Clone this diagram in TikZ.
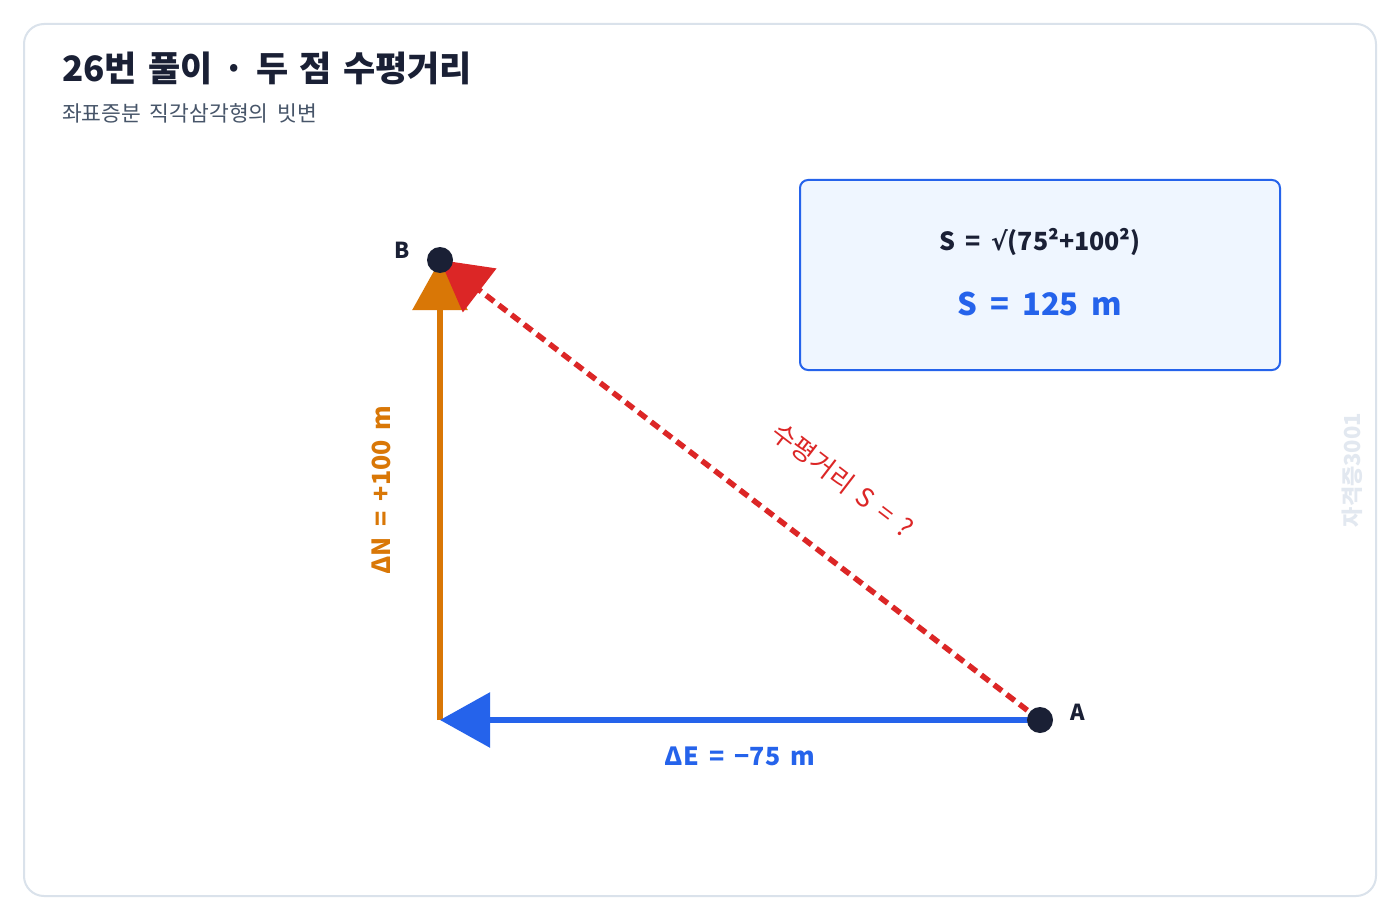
\documentclass[tikz,border=0pt]{standalone}
\usepackage{fontspec}
\setmainfont[WordSpace = 1.8]{Noto Sans CJK KR}
\newfontfamily\titlefont[WordSpace = 1.4]{Noto Sans CJK KR}
\newfontfamily\symfont{DejaVu Sans}
\usetikzlibrary{calc, arrows.meta}
\definecolor{ink}{HTML}{1A2035}
\definecolor{subgray}{HTML}{475569}
\definecolor{framegray}{HTML}{DAE2EB}
\definecolor{markgray}{HTML}{E2E8F0}
\definecolor{eblue}{HTML}{2563EB}
\definecolor{norange}{HTML}{D97706}
\definecolor{sred}{HTML}{DC2626}
\definecolor{boxfill}{HTML}{EFF6FF}
\tikzset{>=latex}

\begin{document}
\begin{tikzpicture}[
    x = 1pt, y = -1pt,
    dot/.style = {circle, fill = ink, inner sep = 0pt, minimum size = 26pt},
    d0/.style = {line width = 6pt},
    d1/.style = {line width = 5.5pt, dash pattern = on 10pt off 6pt},
    tip/.style = {-{Triangle[length = 50pt, width = 54pt]}},
    fs/.style = {font = \fontsize{#1}{#1}\selectfont},
    fb/.style = {font = \bfseries\fontsize{#1}{#1}\selectfont},
]

\useasboundingbox[fill = white] (0,0) rectangle (1400,920);
\draw[framegray, line width = 2pt, rounded corners = 20pt] (24,24) rectangle (1376,896);

% title
\node[font = \titlefont\bfseries\fontsize{35}{35}\selectfont, text = ink, anchor = base west, inner sep = 0pt] (title) at (62,82) {26번 풀이 · 두 점 수평거리};
\node[fs = 21.5, text = subgray, anchor = base west, inner sep = 0pt] (subtitle) at (62,122) {좌표증분 직각삼각형의 빗변};

\coordinate (B) at (440,260);
\coordinate (A) at (1040,720);
\coordinate (C) at (440,720);

\draw[d0, tip, norange] (C) -- (B);
\draw[d0, tip, eblue] (A) -- (C);
\draw[d1, tip, sred] (A) -- (B);

\node[dot] (Bdot) at (B) {};
\node[dot] (Adot) at (A) {};
\node[fb = 22, text = ink] (labB) at ($(B)+(-38,-10)$) {B};
\node[fb = 22, text = ink] (labA) at ($(A)+(38,-8)$) {A};

\node[fb = 25, text = eblue] (dE) at ($(A)!0.5!(C)+(0,36)$) {ΔE = −75 m};
\node[fb = 25, text = norange, rotate = 90] (dN) at ($(C)!0.5!(B)+(-59,0)$) {ΔN = +100 m};
\path (B) -- (A) node[pos = 0.6, sloped, above = 55pt, fs = 26, text = sred] (sq) {수평거리 S = ?};

% result box
\node[draw = eblue, fill = boxfill, line width = 2pt, rounded corners = 8pt,
      minimum width = 480pt, minimum height = 190pt] (res) at (1040,275) {};
\node[fb = 25, text = ink] (f1) at (1040,242) {S = {\symfont\bfseries √}(75²+100²)};
\node[fb = 31, text = eblue] (f2) at (1040,304) {S = 125 m};

\node[fb = 22, text = markgray, rotate = 90] (wm) at (1352,470) {자격증3001};

\end{tikzpicture}
\end{document}
